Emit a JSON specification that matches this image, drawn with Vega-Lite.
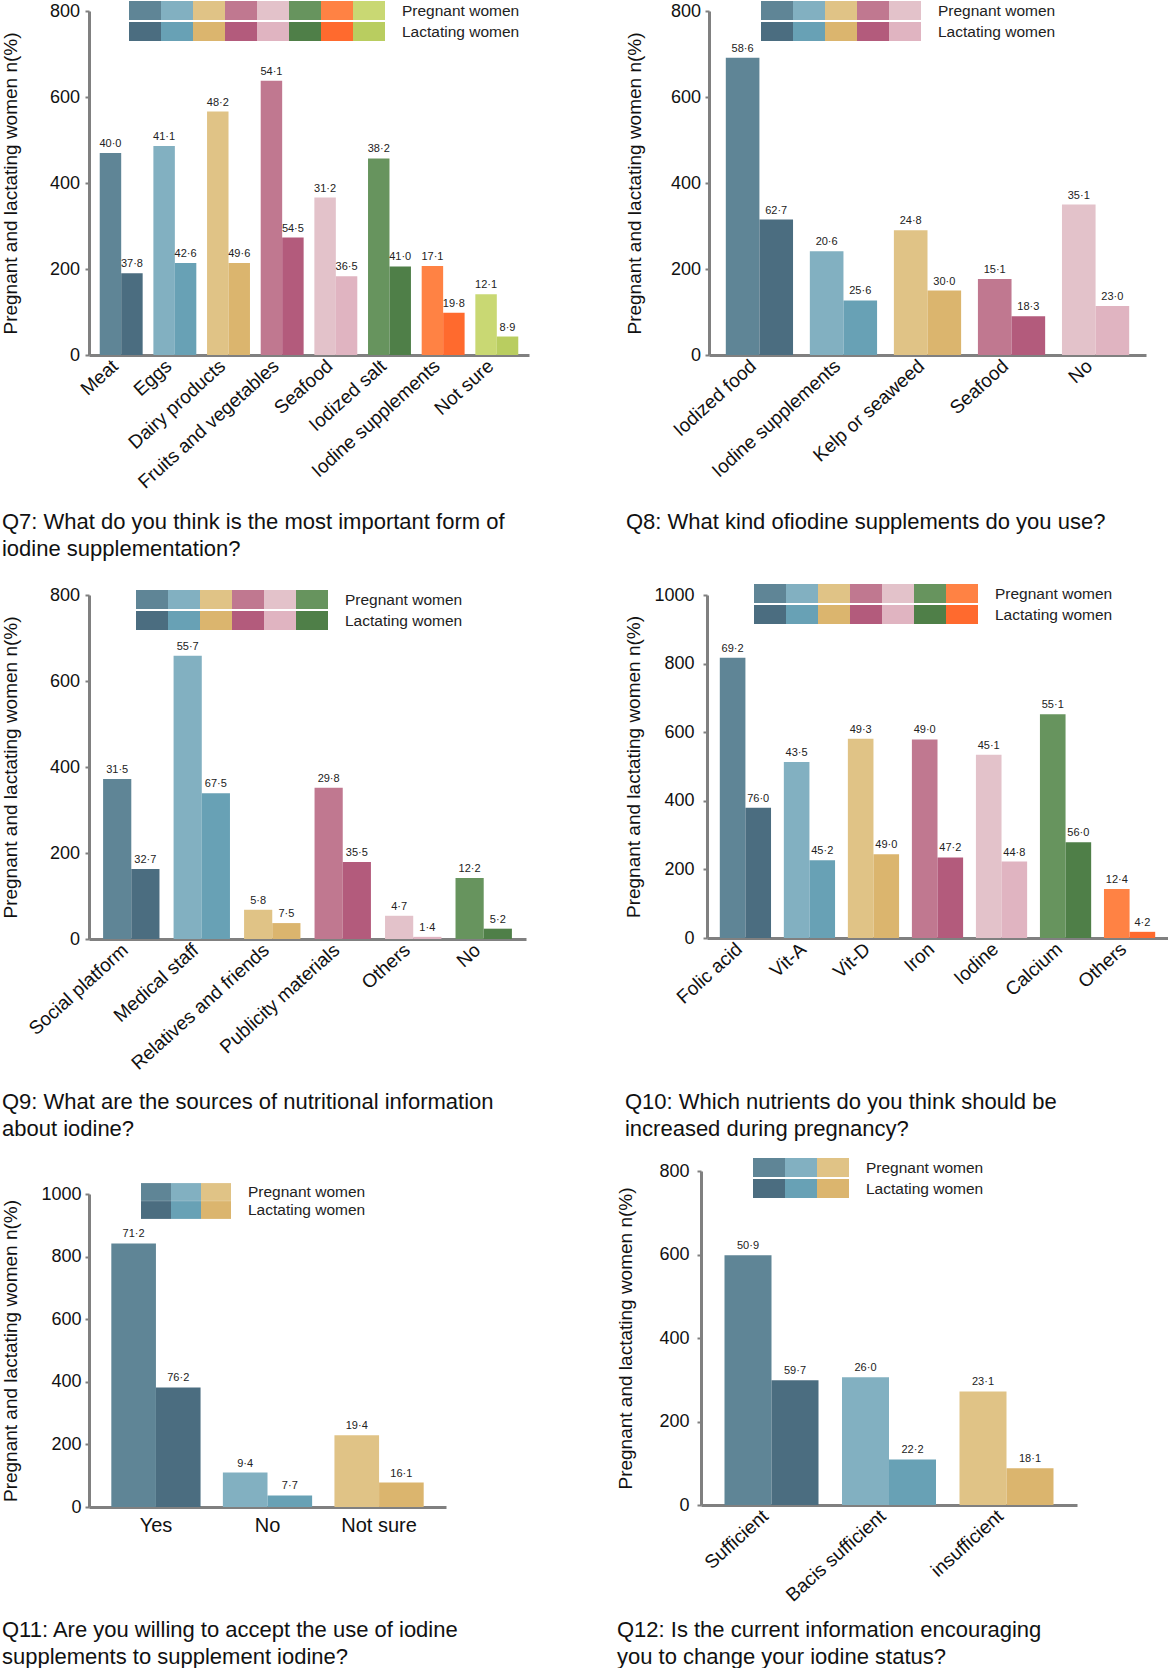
{
  "$schema": "https://vega.github.io/schema/vega-lite/v6.json",
  "padding": {"left": 1, "top": 1, "right": 0, "bottom": 0},
  "background": "white",
  "config": {
    "font": "Liberation Sans",
    "view": {"stroke": null},
    "axis": {"grid": false, "domainColor": "#808080", "domainWidth": 3, "tickColor": "#808080", "tickWidth": 2, "tickSize": 4, "labelColor": "#111111", "titleColor": "#111111", "labelFontSize": 18, "titleFontSize": 19, "titleFontWeight": "normal", "labelFont": "Liberation Sans", "titleFont": "Liberation Sans"},
    "axisY": {"format": "d"},
    "axisX": {"ticks": false, "labelFontSize": 19, "labelAngle": -42, "labelAlign": "right", "labelBaseline": "middle", "labelPadding": 8, "labelOffset": -6, "labelLimit": 400, "title": null},
    "legend": {"labelFontSize": 1, "labelOffset": 0, "columnPadding": 0, "rowPadding": 0, "titleOrient": "right", "titleFontSize": 15.5, "titleFontWeight": "normal", "titleColor": "#222222", "titlePadding": 17, "padding": 0, "titleBaseline": "middle", "titleFont": "Liberation Sans"},
    "title": {"fontSize": 22, "fontWeight": "normal", "color": "#111111", "anchor": "start", "orient": "bottom", "frame": "bounds", "lineHeight": 27, "font": "Liberation Sans"}
  },
  "vconcat": [
    {
      "vconcat": [
        {
          "hconcat": [
            {
              "width": 440, "height": 344,
              "title": {"text": ["Q7: What do you think is the most important form of", "iodine supplementation?"], "offset": 20},
              "data": {"values": [
                {"cat": "Meat", "grp": "Pregnant women", "n": 470, "pct": "40·0"},
                {"cat": "Meat", "grp": "Lactating women", "n": 190, "pct": "37·8"},
                {"cat": "Eggs", "grp": "Pregnant women", "n": 486, "pct": "41·1"},
                {"cat": "Eggs", "grp": "Lactating women", "n": 214, "pct": "42·6"},
                {"cat": "Dairy products", "grp": "Pregnant women", "n": 566, "pct": "48·2"},
                {"cat": "Dairy products", "grp": "Lactating women", "n": 214, "pct": "49·6"},
                {"cat": "Fruits and vegetables", "grp": "Pregnant women", "n": 638, "pct": "54·1"},
                {"cat": "Fruits and vegetables", "grp": "Lactating women", "n": 273, "pct": "54·5"},
                {"cat": "Seafood", "grp": "Pregnant women", "n": 366, "pct": "31·2"},
                {"cat": "Seafood", "grp": "Lactating women", "n": 183, "pct": "36·5"},
                {"cat": "Iodized salt", "grp": "Pregnant women", "n": 457, "pct": "38·2"},
                {"cat": "Iodized salt", "grp": "Lactating women", "n": 206, "pct": "41·0"},
                {"cat": "Iodine supplements", "grp": "Pregnant women", "n": 207, "pct": "17·1"},
                {"cat": "Iodine supplements", "grp": "Lactating women", "n": 98, "pct": "19·8"},
                {"cat": "Not sure", "grp": "Pregnant women", "n": 141, "pct": "12·1"},
                {"cat": "Not sure", "grp": "Lactating women", "n": 43, "pct": "8·9"}
              ]},
              "encoding": {
                "x": {"field": "cat", "type": "nominal", "scale": {"type": "band", "domain": ["Meat", "Eggs", "Dairy products", "Fruits and vegetables", "Seafood", "Iodized salt", "Iodine supplements", "Not sure"], "paddingInner": 0.2, "paddingOuter": 0.2}, "axis": {"title": null}},
                "y": {"field": "n", "type": "quantitative", "scale": {"domain": [0, 800], "nice": false}, "axis": {"values": [0, 200, 400, 600, 800], "title": "Pregnant and lactating women n(%)", "titlePadding": 28.5, "labelPadding": 5.5}}
              },
              "layer": [
                {"transform": [{"filter": "datum.grp == 'Pregnant women'"}], "mark": {"type": "bar"},
                 "encoding": {"x": {"field": "cat", "type": "nominal", "bandPosition": 0}, "x2": {"field": "cat", "bandPosition": 0.5}, "y2": {"datum": 0},
                   "color": {"field": "cat", "type": "nominal", "scale": {"domain": ["Meat", "Eggs", "Dairy products", "Fruits and vegetables", "Seafood", "Iodized salt", "Iodine supplements", "Not sure"], "range": ["#5f8596", "#82b0c1", "#e0c386", "#c07890", "#e3c2ca", "#67945e", "#ff8244", "#c9d873"]},
                   "legend": {"title": "Pregnant women", "orient": "none", "legendX": 40, "legendY": -10, "direction": "horizontal", "columns": 8, "symbolType": "M-1,-1H1V0.1875H-1Z", "symbolSize": 1024, "symbolStrokeWidth": 0, "symbolOpacity": 1, "labelExpr": "''"}}}},
                {"transform": [{"filter": "datum.grp == 'Lactating women'"}], "mark": {"type": "bar"},
                 "encoding": {"x": {"field": "cat", "type": "nominal", "bandPosition": 0.5}, "x2": {"field": "cat", "bandPosition": 1}, "y2": {"datum": 0},
                   "color": {"field": "cat", "type": "nominal", "scale": {"domain": ["Meat", "Eggs", "Dairy products", "Fruits and vegetables", "Seafood", "Iodized salt", "Iodine supplements", "Not sure"], "range": ["#4b6d80", "#68a1b5", "#dbb56e", "#b35b7c", "#e0b4c1", "#4f7f48", "#ff6a2e", "#b9cd60"]},
                   "legend": {"title": "Lactating women", "orient": "none", "legendX": 40, "legendY": 11, "direction": "horizontal", "columns": 8, "symbolType": "M-1,-1H1V0.1875H-1Z", "symbolSize": 1024, "symbolStrokeWidth": 0, "symbolOpacity": 1, "labelExpr": "''"}}}},
                {"transform": [{"filter": "datum.grp == 'Pregnant women'"}], "mark": {"type": "text", "fontSize": 11, "dy": -6, "baseline": "alphabetic", "color": "#222222"}, "encoding": {"x": {"field": "cat", "type": "nominal", "bandPosition": 0.25}, "text": {"field": "pct"}}},
                {"transform": [{"filter": "datum.grp == 'Lactating women'"}], "mark": {"type": "text", "fontSize": 11, "dy": -6, "baseline": "alphabetic", "color": "#222222"}, "encoding": {"x": {"field": "cat", "type": "nominal", "bandPosition": 0.75}, "text": {"field": "pct"}}}
              ],
              "resolve": {"scale": {"color": "independent"}, "legend": {"color": "independent"}}
            },
            {
              "width": 437, "height": 344,
              "title": {"text": "Q8: What kind ofiodine supplements do you use?", "offset": 31},
              "data": {"values": [
                {"cat": "Iodized food", "grp": "Pregnant women", "n": 691, "pct": "58·6"},
                {"cat": "Iodized food", "grp": "Lactating women", "n": 315, "pct": "62·7"},
                {"cat": "Iodine supplements", "grp": "Pregnant women", "n": 241, "pct": "20·6"},
                {"cat": "Iodine supplements", "grp": "Lactating women", "n": 127, "pct": "25·6"},
                {"cat": "Kelp or seaweed", "grp": "Pregnant women", "n": 290, "pct": "24·8"},
                {"cat": "Kelp or seaweed", "grp": "Lactating women", "n": 150, "pct": "30·0"},
                {"cat": "Seafood", "grp": "Pregnant women", "n": 177, "pct": "15·1"},
                {"cat": "Seafood", "grp": "Lactating women", "n": 90, "pct": "18·3"},
                {"cat": "No", "grp": "Pregnant women", "n": 350, "pct": "35·1"},
                {"cat": "No", "grp": "Lactating women", "n": 114, "pct": "23·0"}
              ]},
              "encoding": {
                "x": {"field": "cat", "type": "nominal", "scale": {"type": "band", "domain": ["Iodized food", "Iodine supplements", "Kelp or seaweed", "Seafood", "No"], "paddingInner": 0.2, "paddingOuter": 0.2}, "axis": {"title": null}},
                "y": {"field": "n", "type": "quantitative", "scale": {"domain": [0, 800], "nice": false}, "axis": {"values": [0, 200, 400, 600, 800], "title": "Pregnant and lactating women n(%)", "titlePadding": 25.5, "labelPadding": 4.5}}
              },
              "layer": [
                {"transform": [{"filter": "datum.grp == 'Pregnant women'"}], "mark": {"type": "bar"},
                 "encoding": {"x": {"field": "cat", "type": "nominal", "bandPosition": 0}, "x2": {"field": "cat", "bandPosition": 0.5}, "y2": {"datum": 0},
                   "color": {"field": "cat", "type": "nominal", "scale": {"domain": ["Iodized food", "Iodine supplements", "Kelp or seaweed", "Seafood", "No"], "range": ["#5f8596", "#82b0c1", "#e0c386", "#c07890", "#e3c2ca"]},
                   "legend": {"title": "Pregnant women", "orient": "none", "legendX": 52, "legendY": -10, "direction": "horizontal", "columns": 5, "symbolType": "M-1,-1H1V0.1875H-1Z", "symbolSize": 1024, "symbolStrokeWidth": 0, "symbolOpacity": 1, "labelExpr": "''"}}}},
                {"transform": [{"filter": "datum.grp == 'Lactating women'"}], "mark": {"type": "bar"},
                 "encoding": {"x": {"field": "cat", "type": "nominal", "bandPosition": 0.5}, "x2": {"field": "cat", "bandPosition": 1}, "y2": {"datum": 0},
                   "color": {"field": "cat", "type": "nominal", "scale": {"domain": ["Iodized food", "Iodine supplements", "Kelp or seaweed", "Seafood", "No"], "range": ["#4b6d80", "#68a1b5", "#dbb56e", "#b35b7c", "#e0b4c1"]},
                   "legend": {"title": "Lactating women", "orient": "none", "legendX": 52, "legendY": 11, "direction": "horizontal", "columns": 5, "symbolType": "M-1,-1H1V0.1875H-1Z", "symbolSize": 1024, "symbolStrokeWidth": 0, "symbolOpacity": 1, "labelExpr": "''"}}}},
                {"transform": [{"filter": "datum.grp == 'Pregnant women'"}], "mark": {"type": "text", "fontSize": 11, "dy": -6, "baseline": "alphabetic", "color": "#222222"}, "encoding": {"x": {"field": "cat", "type": "nominal", "bandPosition": 0.25}, "text": {"field": "pct"}}},
                {"transform": [{"filter": "datum.grp == 'Lactating women'"}], "mark": {"type": "text", "fontSize": 11, "dy": -6, "baseline": "alphabetic", "color": "#222222"}, "encoding": {"x": {"field": "cat", "type": "nominal", "bandPosition": 0.75}, "text": {"field": "pct"}}}
              ],
              "resolve": {"scale": {"color": "independent"}, "legend": {"color": "independent"}}
            }
          ],
          "spacing": 96
        },
        {
          "hconcat": [
            {
              "width": 437, "height": 344,
              "title": {"text": ["Q9: What are the sources of nutritional information", "about iodine?"], "offset": 19},
              "data": {"values": [
                {"cat": "Social platform", "grp": "Pregnant women", "n": 372, "pct": "31·5"},
                {"cat": "Social platform", "grp": "Lactating women", "n": 163, "pct": "32·7"},
                {"cat": "Medical staff", "grp": "Pregnant women", "n": 659, "pct": "55·7"},
                {"cat": "Medical staff", "grp": "Lactating women", "n": 339, "pct": "67·5"},
                {"cat": "Relatives and friends", "grp": "Pregnant women", "n": 68, "pct": "5·8"},
                {"cat": "Relatives and friends", "grp": "Lactating women", "n": 37, "pct": "7·5"},
                {"cat": "Publicity materials", "grp": "Pregnant women", "n": 352, "pct": "29·8"},
                {"cat": "Publicity materials", "grp": "Lactating women", "n": 179, "pct": "35·5"},
                {"cat": "Others", "grp": "Pregnant women", "n": 54, "pct": "4·7"},
                {"cat": "Others", "grp": "Lactating women", "n": 5, "pct": "1·4"},
                {"cat": "No", "grp": "Pregnant women", "n": 142, "pct": "12·2"},
                {"cat": "No", "grp": "Lactating women", "n": 24, "pct": "5·2"}
              ]},
              "encoding": {
                "x": {"field": "cat", "type": "nominal", "scale": {"type": "band", "domain": ["Social platform", "Medical staff", "Relatives and friends", "Publicity materials", "Others", "No"], "paddingInner": 0.2, "paddingOuter": 0.2}, "axis": {"title": null}},
                "y": {"field": "n", "type": "quantitative", "scale": {"domain": [0, 800], "nice": false}, "axis": {"values": [0, 200, 400, 600, 800], "title": "Pregnant and lactating women n(%)", "titlePadding": 28.5, "labelPadding": 5.5}}
              },
              "layer": [
                {"transform": [{"filter": "datum.grp == 'Pregnant women'"}], "mark": {"type": "bar"},
                 "encoding": {"x": {"field": "cat", "type": "nominal", "bandPosition": 0}, "x2": {"field": "cat", "bandPosition": 0.5}, "y2": {"datum": 0},
                   "color": {"field": "cat", "type": "nominal", "scale": {"domain": ["Social platform", "Medical staff", "Relatives and friends", "Publicity materials", "Others", "No"], "range": ["#5f8596", "#82b0c1", "#e0c386", "#c07890", "#e3c2ca", "#67945e"]},
                   "legend": {"title": "Pregnant women", "orient": "none", "legendX": 47, "legendY": -5, "direction": "horizontal", "columns": 6, "symbolType": "M-1,-1H1V0.1875H-1Z", "symbolSize": 1024, "symbolStrokeWidth": 0, "symbolOpacity": 1, "labelExpr": "''"}}}},
                {"transform": [{"filter": "datum.grp == 'Lactating women'"}], "mark": {"type": "bar"},
                 "encoding": {"x": {"field": "cat", "type": "nominal", "bandPosition": 0.5}, "x2": {"field": "cat", "bandPosition": 1}, "y2": {"datum": 0},
                   "color": {"field": "cat", "type": "nominal", "scale": {"domain": ["Social platform", "Medical staff", "Relatives and friends", "Publicity materials", "Others", "No"], "range": ["#4b6d80", "#68a1b5", "#dbb56e", "#b35b7c", "#e0b4c1", "#4f7f48"]},
                   "legend": {"title": "Lactating women", "orient": "none", "legendX": 47, "legendY": 16, "direction": "horizontal", "columns": 6, "symbolType": "M-1,-1H1V0.1875H-1Z", "symbolSize": 1024, "symbolStrokeWidth": 0, "symbolOpacity": 1, "labelExpr": "''"}}}},
                {"transform": [{"filter": "datum.grp == 'Pregnant women'"}], "mark": {"type": "text", "fontSize": 11, "dy": -6, "baseline": "alphabetic", "color": "#222222"}, "encoding": {"x": {"field": "cat", "type": "nominal", "bandPosition": 0.25}, "text": {"field": "pct"}}},
                {"transform": [{"filter": "datum.grp == 'Lactating women'"}], "mark": {"type": "text", "fontSize": 11, "dy": -6, "baseline": "alphabetic", "color": "#222222"}, "encoding": {"x": {"field": "cat", "type": "nominal", "bandPosition": 0.75}, "text": {"field": "pct"}}}
              ],
              "resolve": {"scale": {"color": "independent"}, "legend": {"color": "independent"}}
            },
            {
              "width": 461, "height": 343,
              "title": {"text": ["Q10: Which nutrients do you think should be", "increased during pregnancy?"], "offset": 84.5},
              "data": {"values": [
                {"cat": "Folic acid", "grp": "Pregnant women", "n": 817, "pct": "69·2"},
                {"cat": "Folic acid", "grp": "Lactating women", "n": 380, "pct": "76·0"},
                {"cat": "Vit-A", "grp": "Pregnant women", "n": 513, "pct": "43·5"},
                {"cat": "Vit-A", "grp": "Lactating women", "n": 227, "pct": "45·2"},
                {"cat": "Vit-D", "grp": "Pregnant women", "n": 581, "pct": "49·3"},
                {"cat": "Vit-D", "grp": "Lactating women", "n": 244, "pct": "49·0"},
                {"cat": "Iron", "grp": "Pregnant women", "n": 579, "pct": "49·0"},
                {"cat": "Iron", "grp": "Lactating women", "n": 235, "pct": "47·2"},
                {"cat": "Iodine", "grp": "Pregnant women", "n": 534, "pct": "45·1"},
                {"cat": "Iodine", "grp": "Lactating women", "n": 223, "pct": "44·8"},
                {"cat": "Calcium", "grp": "Pregnant women", "n": 652, "pct": "55·1"},
                {"cat": "Calcium", "grp": "Lactating women", "n": 279, "pct": "56·0"},
                {"cat": "Others", "grp": "Pregnant women", "n": 143, "pct": "12·4"},
                {"cat": "Others", "grp": "Lactating women", "n": 18, "pct": "4·2"}
              ]},
              "encoding": {
                "x": {"field": "cat", "type": "nominal", "scale": {"type": "band", "domain": ["Folic acid", "Vit-A", "Vit-D", "Iron", "Iodine", "Calcium", "Others"], "paddingInner": 0.2, "paddingOuter": 0.2}, "axis": {"title": null}},
                "y": {"field": "n", "type": "quantitative", "scale": {"domain": [0, 1000], "nice": false}, "axis": {"values": [0, 200, 400, 600, 800, 1000], "title": "Pregnant and lactating women n(%)", "titlePadding": 10, "labelPadding": 9}}
              },
              "layer": [
                {"transform": [{"filter": "datum.grp == 'Pregnant women'"}], "mark": {"type": "bar"},
                 "encoding": {"x": {"field": "cat", "type": "nominal", "bandPosition": 0}, "x2": {"field": "cat", "bandPosition": 0.5}, "y2": {"datum": 0},
                   "color": {"field": "cat", "type": "nominal", "scale": {"domain": ["Folic acid", "Vit-A", "Vit-D", "Iron", "Iodine", "Calcium", "Others"], "range": ["#5f8596", "#82b0c1", "#e0c386", "#c07890", "#e3c2ca", "#67945e", "#ff8244"]},
                   "legend": {"title": "Pregnant women", "orient": "none", "legendX": 47, "legendY": -11, "direction": "horizontal", "columns": 7, "symbolType": "M-1,-1H1V0.1875H-1Z", "symbolSize": 1024, "symbolStrokeWidth": 0, "symbolOpacity": 1, "labelExpr": "''"}}}},
                {"transform": [{"filter": "datum.grp == 'Lactating women'"}], "mark": {"type": "bar"},
                 "encoding": {"x": {"field": "cat", "type": "nominal", "bandPosition": 0.5}, "x2": {"field": "cat", "bandPosition": 1}, "y2": {"datum": 0},
                   "color": {"field": "cat", "type": "nominal", "scale": {"domain": ["Folic acid", "Vit-A", "Vit-D", "Iron", "Iodine", "Calcium", "Others"], "range": ["#4b6d80", "#68a1b5", "#dbb56e", "#b35b7c", "#e0b4c1", "#4f7f48", "#ff6a2e"]},
                   "legend": {"title": "Lactating women", "orient": "none", "legendX": 47, "legendY": 10, "direction": "horizontal", "columns": 7, "symbolType": "M-1,-1H1V0.1875H-1Z", "symbolSize": 1024, "symbolStrokeWidth": 0, "symbolOpacity": 1, "labelExpr": "''"}}}},
                {"transform": [{"filter": "datum.grp == 'Pregnant women'"}], "mark": {"type": "text", "fontSize": 11, "dy": -6, "baseline": "alphabetic", "color": "#222222"}, "encoding": {"x": {"field": "cat", "type": "nominal", "bandPosition": 0.25}, "text": {"field": "pct"}}},
                {"transform": [{"filter": "datum.grp == 'Lactating women'"}], "mark": {"type": "text", "fontSize": 11, "dy": -6, "baseline": "alphabetic", "color": "#222222"}, "encoding": {"x": {"field": "cat", "type": "nominal", "bandPosition": 0.75}, "text": {"field": "pct"}}}
              ],
              "resolve": {"scale": {"color": "independent"}, "legend": {"color": "independent"}}
            }
          ],
          "spacing": 98
        }
      ],
      "spacing": 24
    },
    {
      "hconcat": [
        {
          "vconcat": [
            {"width": 10, "height": 12, "data": {"values": [{}]}, "mark": {"type": "point", "opacity": 0}, "encoding": {}},
            {
              "width": 357, "height": 313,
              "title": {"text": ["Q11: Are you willing to accept the use of iodine", "supplements to supplement iodine?"], "offset": 85},
              "data": {"values": [
                {"cat": "Yes", "grp": "Pregnant women", "n": 842, "pct": "71·2"},
                {"cat": "Yes", "grp": "Lactating women", "n": 382, "pct": "76·2"},
                {"cat": "No", "grp": "Pregnant women", "n": 110, "pct": "9·4"},
                {"cat": "No", "grp": "Lactating women", "n": 37, "pct": "7·7"},
                {"cat": "Not sure", "grp": "Pregnant women", "n": 229, "pct": "19·4"},
                {"cat": "Not sure", "grp": "Lactating women", "n": 78, "pct": "16·1"}
              ]},
              "encoding": {
                "x": {"field": "cat", "type": "nominal", "scale": {"type": "band", "domain": ["Yes", "No", "Not sure"], "paddingInner": 0.2, "paddingOuter": 0.2}, "axis": {"title": null, "labelAngle": 0, "labelAlign": "center", "labelBaseline": "top", "labelPadding": 8, "labelOffset": 0, "labelFontSize": 20}},
                "y": {"field": "n", "type": "quantitative", "scale": {"domain": [0, 1000], "nice": false}, "axis": {"values": [0, 200, 400, 600, 800, 1000], "title": "Pregnant and lactating women n(%)", "titlePadding": 20, "labelPadding": 4}}
              },
              "layer": [
                {"transform": [{"filter": "datum.grp == 'Pregnant women'"}], "mark": {"type": "bar"},
                 "encoding": {"x": {"field": "cat", "type": "nominal", "bandPosition": 0}, "x2": {"field": "cat", "bandPosition": 0.5}, "y2": {"datum": 0},
                   "color": {"field": "cat", "type": "nominal", "scale": {"domain": ["Yes", "No", "Not sure"], "range": ["#5f8596", "#82b0c1", "#e0c386"]},
                   "legend": {"title": "Pregnant women", "orient": "none", "legendX": 52, "legendY": -11, "direction": "horizontal", "columns": 3, "symbolType": "M-1,-1H1V0.1875H-1Z", "symbolSize": 900, "symbolStrokeWidth": 0, "symbolOpacity": 1, "labelExpr": "''"}}}},
                {"transform": [{"filter": "datum.grp == 'Lactating women'"}], "mark": {"type": "bar"},
                 "encoding": {"x": {"field": "cat", "type": "nominal", "bandPosition": 0.5}, "x2": {"field": "cat", "bandPosition": 1}, "y2": {"datum": 0},
                   "color": {"field": "cat", "type": "nominal", "scale": {"domain": ["Yes", "No", "Not sure"], "range": ["#4b6d80", "#68a1b5", "#dbb56e"]},
                   "legend": {"title": "Lactating women", "orient": "none", "legendX": 52, "legendY": 7, "direction": "horizontal", "columns": 3, "symbolType": "M-1,-1H1V0.1875H-1Z", "symbolSize": 900, "symbolStrokeWidth": 0, "symbolOpacity": 1, "labelExpr": "''"}}}},
                {"transform": [{"filter": "datum.grp == 'Pregnant women'"}], "mark": {"type": "text", "fontSize": 11, "dy": -6, "baseline": "alphabetic", "color": "#222222"}, "encoding": {"x": {"field": "cat", "type": "nominal", "bandPosition": 0.25}, "text": {"field": "pct"}}},
                {"transform": [{"filter": "datum.grp == 'Lactating women'"}], "mark": {"type": "text", "fontSize": 11, "dy": -6, "baseline": "alphabetic", "color": "#222222"}, "encoding": {"x": {"field": "cat", "type": "nominal", "bandPosition": 0.75}, "text": {"field": "pct"}}}
              ],
              "resolve": {"scale": {"color": "independent"}, "legend": {"color": "independent"}}
            }
          ],
          "spacing": 0
        },
        {
          "width": 376, "height": 334,
          "title": {"text": ["Q12: Is the current information encouraging", "you to change your iodine status?"], "offset": 15},
          "data": {"values": [
            {"cat": "Sufficient", "grp": "Pregnant women", "n": 598, "pct": "50·9"},
            {"cat": "Sufficient", "grp": "Lactating women", "n": 299, "pct": "59·7"},
            {"cat": "Bacis sufficient", "grp": "Pregnant women", "n": 306, "pct": "26·0"},
            {"cat": "Bacis sufficient", "grp": "Lactating women", "n": 109, "pct": "22·2"},
            {"cat": "insufficient", "grp": "Pregnant women", "n": 272, "pct": "23·1"},
            {"cat": "insufficient", "grp": "Lactating women", "n": 88, "pct": "18·1"}
          ]},
          "encoding": {
            "x": {"field": "cat", "type": "nominal", "scale": {"type": "band", "domain": ["Sufficient", "Bacis sufficient", "insufficient"], "paddingInner": 0.2, "paddingOuter": 0.2}, "axis": {"title": null}},
            "y": {"field": "n", "type": "quantitative", "scale": {"domain": [0, 800], "nice": false}, "axis": {"values": [0, 200, 400, 600, 800], "title": "Pregnant and lactating women n(%)", "titlePadding": 23, "labelPadding": 8}}
          },
          "layer": [
            {"transform": [{"filter": "datum.grp == 'Pregnant women'"}], "mark": {"type": "bar"},
             "encoding": {"x": {"field": "cat", "type": "nominal", "bandPosition": 0}, "x2": {"field": "cat", "bandPosition": 0.5}, "y2": {"datum": 0},
               "color": {"field": "cat", "type": "nominal", "scale": {"domain": ["Sufficient", "Bacis sufficient", "insufficient"], "range": ["#5f8596", "#82b0c1", "#e0c386"]},
               "legend": {"title": "Pregnant women", "orient": "none", "legendX": 52, "legendY": -13, "direction": "horizontal", "columns": 3, "symbolType": "M-1,-1H1V0.1875H-1Z", "symbolSize": 1024, "symbolStrokeWidth": 0, "symbolOpacity": 1, "labelExpr": "''"}}}},
            {"transform": [{"filter": "datum.grp == 'Lactating women'"}], "mark": {"type": "bar"},
             "encoding": {"x": {"field": "cat", "type": "nominal", "bandPosition": 0.5}, "x2": {"field": "cat", "bandPosition": 1}, "y2": {"datum": 0},
               "color": {"field": "cat", "type": "nominal", "scale": {"domain": ["Sufficient", "Bacis sufficient", "insufficient"], "range": ["#4b6d80", "#68a1b5", "#dbb56e"]},
               "legend": {"title": "Lactating women", "orient": "none", "legendX": 52, "legendY": 8, "direction": "horizontal", "columns": 3, "symbolType": "M-1,-1H1V0.1875H-1Z", "symbolSize": 1024, "symbolStrokeWidth": 0, "symbolOpacity": 1, "labelExpr": "''"}}}},
            {"transform": [{"filter": "datum.grp == 'Pregnant women'"}], "mark": {"type": "text", "fontSize": 11, "dy": -6, "baseline": "alphabetic", "color": "#222222"}, "encoding": {"x": {"field": "cat", "type": "nominal", "bandPosition": 0.25}, "text": {"field": "pct"}}},
            {"transform": [{"filter": "datum.grp == 'Lactating women'"}], "mark": {"type": "text", "fontSize": 11, "dy": -6, "baseline": "alphabetic", "color": "#222222"}, "encoding": {"x": {"field": "cat", "type": "nominal", "bandPosition": 0.75}, "text": {"field": "pct"}}}
          ],
          "resolve": {"scale": {"color": "independent"}, "legend": {"color": "independent"}}
        }
      ],
      "spacing": 157
    }
  ],
  "spacing": 17
}
